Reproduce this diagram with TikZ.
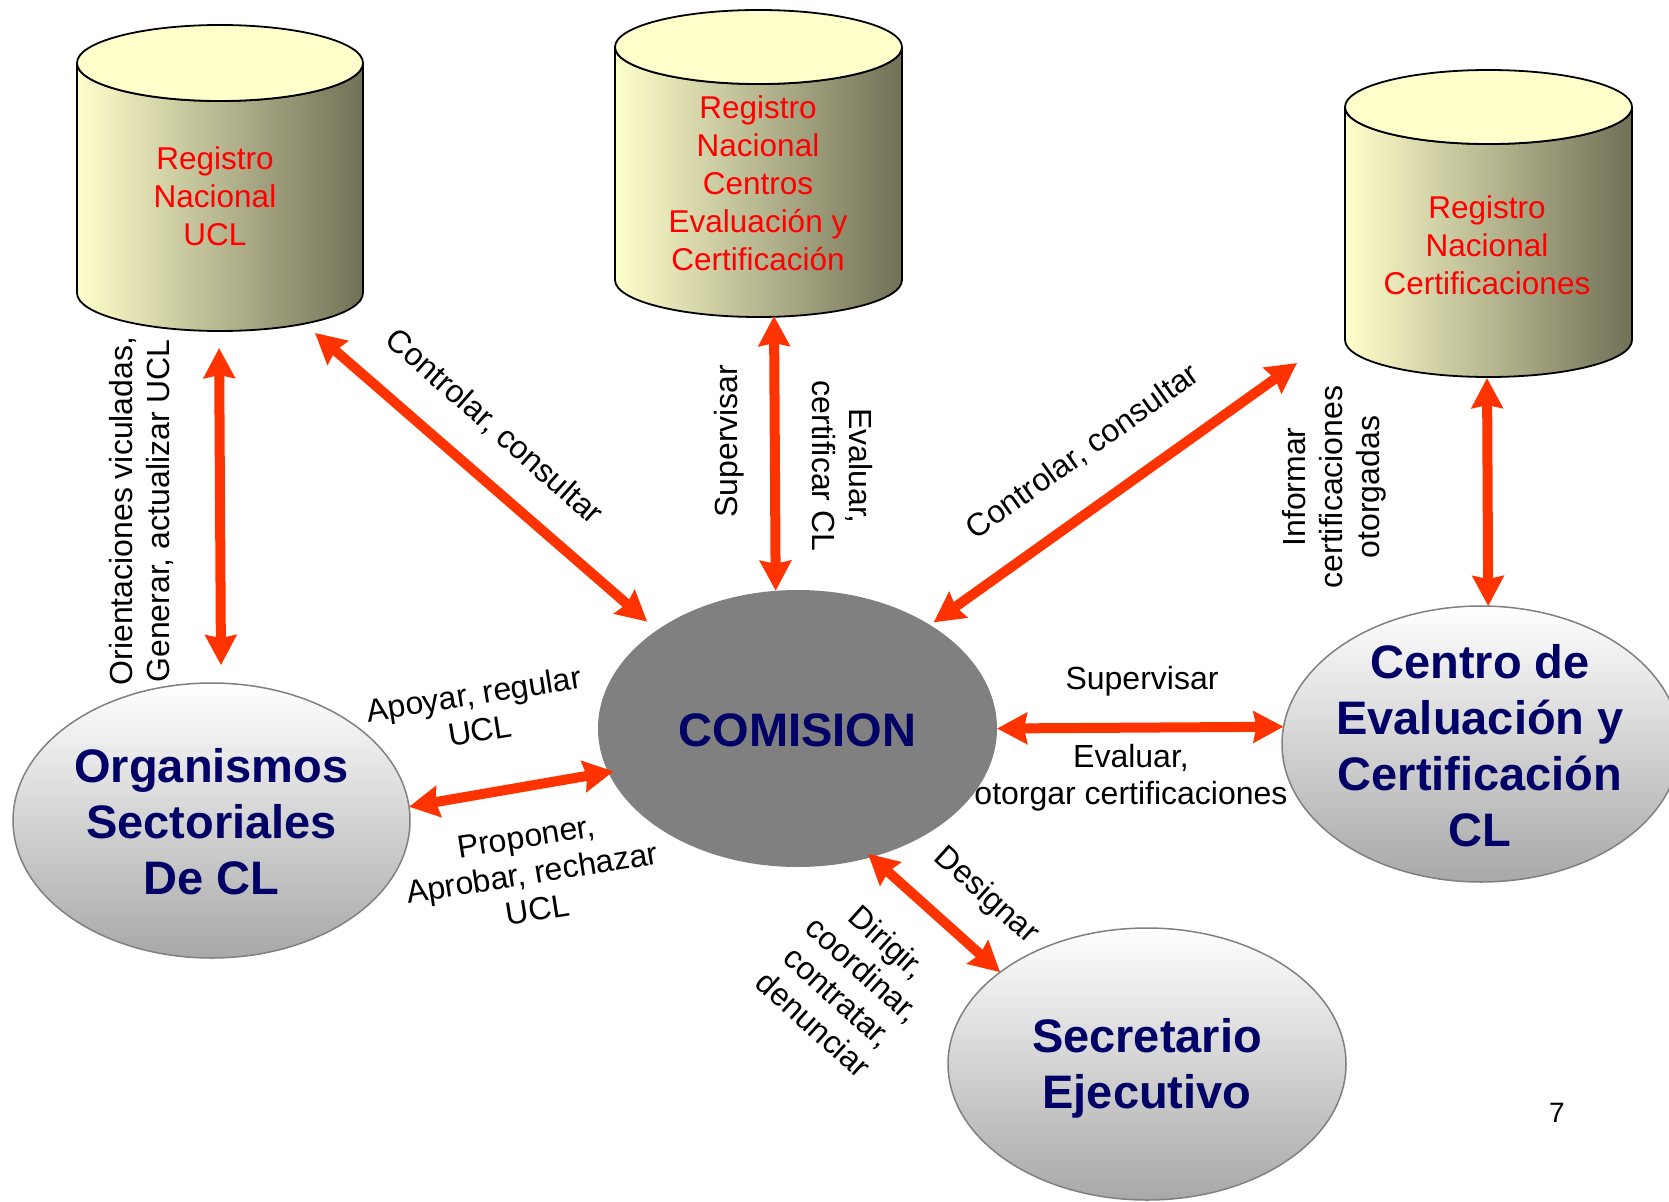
\documentclass[tikz,border=0pt]{standalone}
\usepackage{fontspec}
\setmainfont{Liberation Sans}
\usetikzlibrary{arrows.meta,shapes.geometric}
\definecolor{arr}{RGB}{255,51,0}
\definecolor{navy}{RGB}{0,0,102}
\definecolor{cyllight}{RGB}{255,255,204}
\definecolor{cylmid}{RGB}{200,200,160}
\definecolor{cyldark}{RGB}{112,112,86}
\definecolor{ellbot}{RGB}{168,168,168}
\definecolor{ellline}{RGB}{128,128,128}
\definecolor{comfill}{RGB}{128,128,128}
\definecolor{regred}{RGB}{255,0,0}
\newcommand\drawcyl[5]{%
  \draw[cylbody] ({#1-#4},#2) -- ({#1-#4},#3)
    arc[start angle=180,end angle=360,x radius=#4pt,y radius=#5pt]
    -- ({#1+#4},#2)
    arc[start angle=0,end angle=-180,x radius=#4pt,y radius=#5pt] -- cycle;
  \draw[cyltop] (#1,#2) ellipse[x radius=#4pt,y radius=#5pt];}
\begin{document}
\begin{tikzpicture}[x=1pt,y=-1pt,
  biarrow/.style={draw=arr, line width=10pt,
    {Stealth[length=30pt,width=31pt,inset=3pt]}-{Stealth[length=30pt,width=31pt,inset=3pt]}},
  lbl/.style={font=\fontsize{32}{37}\selectfont, align=center, inner sep=0pt},
  regtxt/.style={font=\fontsize{31.5}{38}\selectfont, text=regred, align=center, inner sep=0pt},
  bigtxt/.style={font=\fontsize{47}{56}\selectfont\bfseries, text=navy, align=center, inner sep=0pt},
  lightell/.style={ellipse, draw=ellline, line width=1.5pt, top color=white, bottom color=ellbot, inner sep=0pt, outer sep=0pt},
  darkell/.style={ellipse, fill=comfill, inner sep=0pt, outer sep=0pt},
  cylbody/.style={draw=black, line width=1.8pt, left color=cyllight, middle color=cylmid, right color=cyldark},
  cyltop/.style={draw=black, line width=1.8pt, fill=cyllight}]
\useasboundingbox (0,0) rectangle (1669,1201);
\fill[white] (0,0) rectangle (1669,1201);

% cylinders
\drawcyl{220}{63}{293}{143}{38}
\drawcyl{758.5}{47}{280}{143.5}{37}
\drawcyl{1488.5}{107}{340}{143.5}{37}

\node[regtxt] (ucl) at (215,196) {Registro\\Nacional\\UCL};
\node[regtxt] (rnc) at (758,183) {Registro\\Nacional\\Centros\\Evaluación y\\Certificación};
\node[regtxt] (rcert) at (1487,245) {Registro\\Nacional\\Certificaciones};

\coordinate (ucl-b) at (219,331);
\coordinate (ucl-r) at (303.9,323.3);
\coordinate (rnc-b) at (774,316);
\coordinate (rcert-b) at (1487,375);
\coordinate (free4) at (1297,363);

% ellipses
\node[lightell, minimum width=397pt, minimum height=275pt] (org) at (211.5,820.5) {};
\node[darkell, minimum width=399pt, minimum height=277pt] (com) at (797.5,728.5) {};
\node[lightell, minimum width=398pt, minimum height=272pt] (sec) at (1147,1064) {};
\node[lightell, minimum width=398pt, minimum height=276pt] (cen) at (1481,744) {};

\node[bigtxt] (orgt) at (211.5,822) {Organismos\\Sectoriales\\De CL};
\node[bigtxt] (comt) at (797.5,730) {COMISION};
\node[bigtxt] (sect) at (1147,1068) {Secretario\\Ejecutivo};
\node[bigtxt] (cent) at (1480,746) {Centro de\\Evaluación y\\Certificación\\CL};

% arrows
\draw[biarrow, shorten <=17pt, shorten >=18pt] (ucl-b) -- (org.86.9);
\draw[biarrow, shorten <=14.7pt, shorten >=13pt] (ucl-r) -- (com.145.1);
\draw[biarrow] (rnc-b) -- (com.99.7);
\draw[biarrow, shorten >=4.5pt] (free4) -- (com.38.25);
\draw[biarrow, shorten <=3pt] (rcert-b) -- (cen.87.5);
\draw[biarrow] (com.east) -- (cen.175.66);
\draw[biarrow, shorten >=-5.5pt] (org.4.44) -- (com.193.84);
\draw[biarrow, shorten <=-5pt] (com.300.76) -- (sec.148.86);

% labels
\node[lbl, rotate=90] (l1) at (141,511) {Orientaciones viculadas,\\Generar, actualizar UCL};
\node[lbl, rotate=-41.5] (l2) at (494,427) {Controlar, consultar};
\node[lbl, rotate=90] (l3) at (729,441) {Supervisar};
\node[lbl, rotate=-90] (l4) at (842,466) {Evaluar,\\certificar CL};
\node[lbl, rotate=35.5] (l5) at (1083,452) {Controlar, consultar};
\node[lbl, rotate=90] (l6) at (1334,487) {Informar\\certificaciones\\otorgadas};
\node[lbl, rotate=9] (l7) at (477,712) {Apoyar, regular\\UCL};
\node[lbl, rotate=9] (l8) at (532,873) {Proponer,\\Aprobar, rechazar\\UCL};
\node[lbl, rotate=-42] (l9) at (986,896) {Designar};
\node[lbl, rotate=-42] (l10) at (851,983) {Dirigir,\\coordinar,\\contratar,\\denunciar};
\node[lbl] (l11) at (1142,681) {Supervisar};
\node[lbl] (l12) at (1131,778) {Evaluar,\\otorgar certificaciones};
\node[font=\fontsize{28}{32}\selectfont, inner sep=0pt] (pg) at (1557,1113) {7};
\end{tikzpicture}
\end{document}
